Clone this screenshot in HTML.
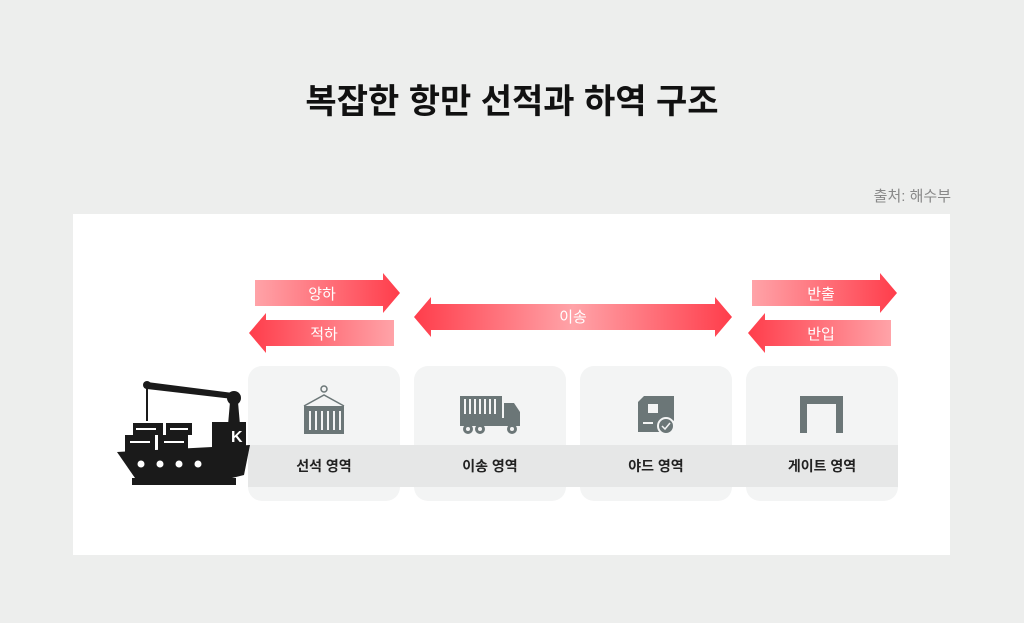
<!DOCTYPE html>
<html><head><meta charset="utf-8"><style>
body{margin:0;width:1024px;height:623px;background:#edeeed;position:relative;overflow:hidden;font-family:"Liberation Sans","Noto Sans CJK KR",sans-serif}
.t{position:absolute;left:0;width:1024px;top:74px;text-align:center;font-size:34px;font-weight:bold;color:#111}
.src{position:absolute;right:73px;top:185px;font-size:15px;color:#888}
.panel{position:absolute;left:73px;top:214px;width:877px;height:341px;background:#fff}
.card{position:absolute;top:366px;width:152px;height:135px;border-radius:14px;background:#f3f4f4}
.band{position:absolute;left:248px;width:650px;top:445px;height:42px;background:#e6e7e7}
.lb{position:absolute;top:456px;width:152px;text-align:center;font-size:14px;font-weight:bold;color:#222}
svg{position:absolute;left:0;top:0}
</style></head><body>
<div class="t">복잡한 항만 선적과 하역 구조</div>
<div class="src">출처: 해수부</div>
<div class="panel"></div>
<div class="card" style="left:248px"></div>
<div class="card" style="left:414px"></div>
<div class="card" style="left:580px"></div>
<div class="card" style="left:746px"></div>
<div class="band"></div>
<div class="lb" style="left:248px">선석 영역</div>
<div class="lb" style="left:414px">이송 영역</div>
<div class="lb" style="left:580px">야드 영역</div>
<div class="lb" style="left:746px">게이트 영역</div>
<svg width="1024" height="623">
<defs>
<linearGradient id="r" x1="0" x2="1"><stop offset="0" stop-color="#ffa3a8"/><stop offset="1" stop-color="#ff3d4b"/></linearGradient>
<linearGradient id="l" x1="0" x2="1"><stop offset="0" stop-color="#ff3d4b"/><stop offset="1" stop-color="#ffa3a8"/></linearGradient>
<linearGradient id="m" x1="0" x2="1"><stop offset="0" stop-color="#ff3d4b"/><stop offset="0.5" stop-color="#ffa3a8"/><stop offset="1" stop-color="#ff3d4b"/></linearGradient>
</defs>
<polygon points="255,280 383,280 383,273 400,293 383,313 383,306 255,306" fill="url(#r)"/>
<polygon points="394,320 266,320 266,313 249,333 266,353 266,346 394,346" fill="url(#l)"/>
<polygon points="414,317 431,297 431,304 715,304 715,297 732,317 715,337 715,330 431,330 431,337" fill="url(#m)"/>
<polygon points="752,280 880,280 880,273 897,293 880,313 880,306 752,306" fill="url(#r)"/>
<polygon points="891,320 765,320 765,313 748,333 765,353 765,346 891,346" fill="url(#l)"/>
<g font-size="15" fill="#fff" text-anchor="middle" font-family="Liberation Sans,Noto Sans CJK KR,sans-serif">
<text x="322" y="299">양하</text><text x="324" y="339">적하</text><text x="573" y="322">이송</text>
<text x="821" y="299">반출</text><text x="821" y="339">반입</text></g>
<g fill="#1a1a1a">
<circle cx="147" cy="385" r="4"/><polygon points="147,382 233,393 233,399 147,389"/>
<circle cx="234" cy="398" r="7"/><rect x="146" y="386" width="2" height="35"/>
<polygon points="230,402 238,402 240,425 228,425"/>
<rect x="133" y="423" width="30" height="12"/><rect x="166" y="423" width="26" height="12"/>
<rect x="125" y="435" width="30" height="18"/><rect x="158" y="435" width="30" height="18"/>
<rect x="212" y="422" width="34" height="30"/>
<polygon points="117,452 250,445 244,475 232,478 135,478"/>
<rect x="132" y="478" width="104" height="7"/>
</g>
<g fill="#fff"><circle cx="141" cy="464" r="3.5"/><circle cx="160" cy="464" r="3.5"/><circle cx="179" cy="464" r="3.5"/><circle cx="198" cy="464" r="3.5"/>
<rect x="136" y="428" width="20" height="2"/><rect x="170" y="428" width="18" height="2"/><rect x="130" y="441" width="20" height="2"/><rect x="164" y="441" width="20" height="2"/>
<text x="231" y="442" font-size="16" font-weight="bold" font-family="Liberation Sans,sans-serif">K</text></g>
<g fill="#6b7677" stroke="#6b7677">
<circle cx="324" cy="389" r="3" fill="none" stroke-width="1.5"/>
<polyline points="304,406 324,395 344,406" fill="none" stroke-width="1.5"/>
<rect x="304" y="406" width="40" height="28" stroke="none"/>
</g>
<g fill="#f3f4f4"><rect x="309" y="411" width="2" height="19"/><rect x="315" y="411" width="2" height="19"/><rect x="321" y="411" width="2" height="19"/><rect x="327" y="411" width="2" height="19"/><rect x="333" y="411" width="2" height="19"/><rect x="339" y="411" width="2" height="19"/></g>
<g fill="#6b7677"><rect x="460" y="396" width="42" height="22"/><polygon points="504,403 514,403 520,412 520,426 504,426"/><rect x="460" y="418" width="46" height="8"/>
<circle cx="468" cy="429" r="5"/><circle cx="480" cy="429" r="5"/><circle cx="512" cy="429" r="5"/></g>
<g fill="#f3f4f4"><rect x="464" y="399" width="2" height="15"/><rect x="469" y="399" width="2" height="15"/><rect x="474" y="399" width="2" height="15"/><rect x="479" y="399" width="2" height="15"/><rect x="484" y="399" width="2" height="15"/><rect x="489" y="399" width="2" height="15"/><rect x="494" y="399" width="2" height="15"/>
<circle cx="468" cy="429" r="2"/><circle cx="480" cy="429" r="2"/><circle cx="512" cy="429" r="2"/></g>
<g fill="#6b7677"><polygon points="638,402 644,396 674,396 674,420 668,432 638,432"/></g>
<rect x="648" y="404" width="10" height="9" fill="#f3f4f4"/>
<rect x="643" y="422" width="10" height="2" fill="#f3f4f4"/>
<circle cx="666" cy="426" r="8" fill="#6b7677" stroke="#f3f4f4" stroke-width="2"/>
<polyline points="662,426 665,429 670,423" fill="none" stroke="#f3f4f4" stroke-width="1.5"/>
<polygon points="800,396 843,396 843,433 836,433 836,404 807,404 807,433 800,433" fill="#6b7677"/>
</svg>
</body></html>
